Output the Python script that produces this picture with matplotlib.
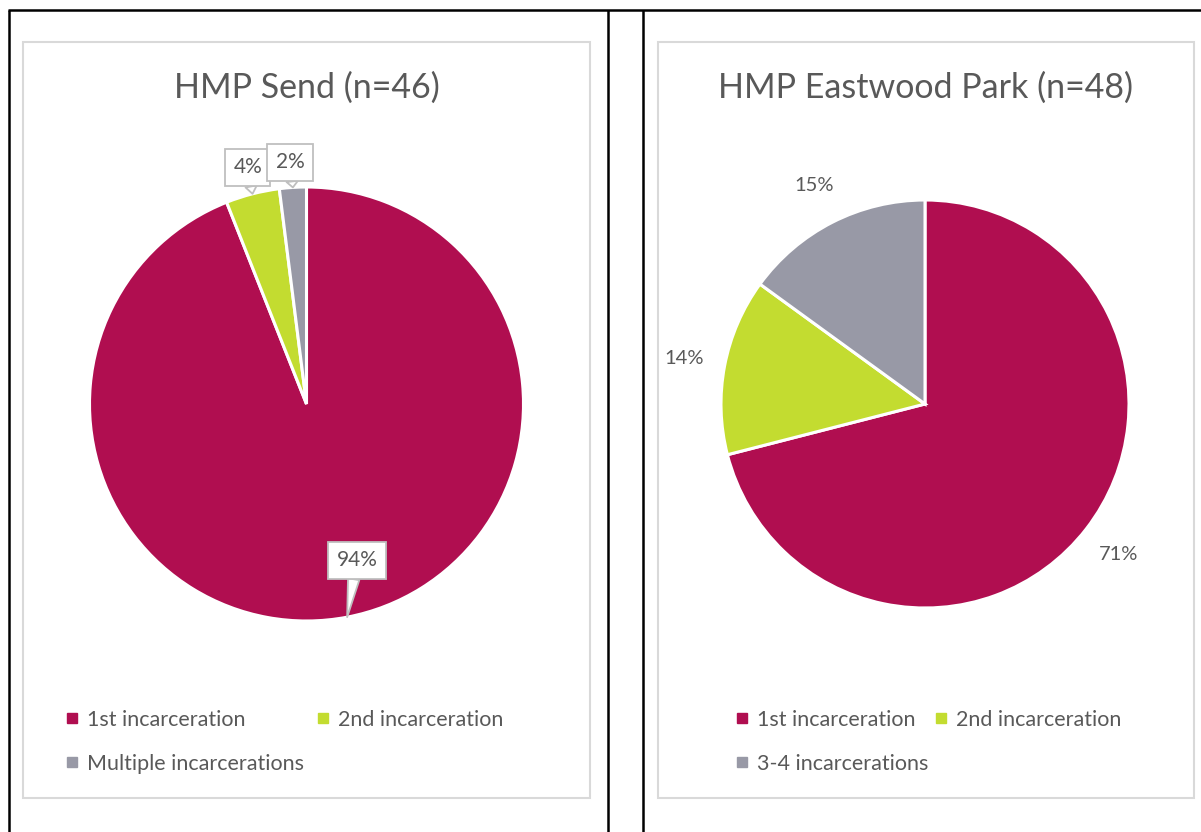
import numpy as np
import matplotlib
matplotlib.use('Agg')
import matplotlib.pyplot as plt
from matplotlib.lines import Line2D
from matplotlib.patches import Rectangle

plt.rcParams['font.family'] = ['Lato', 'DejaVu Sans']

# data
send_title = "HMP Send (n=46)"
send_labels = ['1st incarceration', '2nd incarceration', 'Multiple incarcerations']
send_values = [94, 4, 2]

east_title = "HMP Eastwood Park (n=48)"
east_labels = ['1st incarceration', '2nd incarceration', '3-4 incarcerations']
east_values = [71, 14, 15]

colors = ['#B00E50', '#C3DC30', '#9899A6']
txt = '#595959'

W, H = 1201, 832
fig = plt.figure(figsize=(W / 100, H / 100), dpi=100)

# background layer in pixel coords (table lines + chart frames)
bg = fig.add_axes([0, 0, 1, 1])
bg.set_xlim(0, W)
bg.set_ylim(H, 0)
bg.axis('off')
for x in [9, 608, 643]:
    bg.plot([x, x], [10, H], color='black', lw=1.8, solid_capstyle='butt')
bg.plot([8, W], [10, 10], color='black', lw=1.8, solid_capstyle='butt')
bg.add_patch(Rectangle((23, 42), 567, 756, fill=False, ec='#D9D9D9', lw=1.5))
bg.add_patch(Rectangle((658, 42), 536, 756, fill=False, ec='#D9D9D9', lw=1.5))


def pie_axes(cx, cy, r):
    ax = fig.add_axes([(cx - r) / W, (H - cy - r) / H, 2 * r / W, 2 * r / H])
    ax.axis('off')
    return ax


def fix_limits(ax):
    ax.set_xlim(-1, 1)
    ax.set_ylim(-1, 1)
    ax.set_aspect('equal')


# ---- HMP Send ----
ax1 = pie_axes(306.5, 404, 217)
wedges1, _ = ax1.pie(send_values, colors=colors, startangle=90, counterclock=False,
                     wedgeprops={'edgecolor': 'white', 'linewidth': 2.2})
fix_limits(ax1)
offsets = [(7, 41), (-3.5, 19), (-2, 18)]
for w, v, off in zip(wedges1, send_values, offsets):
    mid = np.deg2rad((w.theta1 + w.theta2) / 2)
    tip = (np.cos(mid) * 1.0, np.sin(mid) * 1.0)
    ax1.annotate(f"{v}%", xy=tip, xytext=off, textcoords='offset points',
                 ha='center', va='center', fontsize=15, color=txt,
                 bbox=dict(boxstyle='square,pad=0.4', fc='white', ec='#BFBFBF', lw=1.3),
                 arrowprops=dict(arrowstyle='wedge,tail_width=0.55', fc='white',
                                 ec='#BFBFBF', lw=1.3, shrinkA=0, shrinkB=0))
fig.text(306.5 / W, 1 - 88 / H, send_title, ha='center', va='center', fontsize=24.5, color=txt)

h1 = [Line2D([], [], marker='s', ls='none', color=c, markersize=6.5) for c in colors]
leg1 = ax1.legend([h1[0], h1[2], h1[1]], [send_labels[0], send_labels[2], send_labels[1]],
                  ncol=2, loc='upper left', bbox_to_anchor=(55 / W, 1 - 699 / H),
                  bbox_transform=fig.transFigure, frameon=False, fontsize=15.5,
                  labelcolor=txt, handlelength=0.6, handletextpad=0.4,
                  columnspacing=0.55, labelspacing=1.12, borderpad=0)

# ---- HMP Eastwood Park ----
ax2 = pie_axes(925, 404, 204)
wedges2, _, autot = ax2.pie(east_values, colors=colors, startangle=90, counterclock=False,
                            autopct='%1.0f%%', pctdistance=1.2,
                            wedgeprops={'edgecolor': 'white', 'linewidth': 2.2},
                            textprops={'fontsize': 14.5, 'color': txt})
fix_limits(ax2)
fig.text(926 / W, 1 - 88 / H, east_title, ha='center', va='center', fontsize=24.5, color=txt)

h2 = [Line2D([], [], marker='s', ls='none', color=c, markersize=6.5) for c in colors]
leg2 = ax2.legend([h2[0], h2[2], h2[1]], [east_labels[0], east_labels[2], east_labels[1]],
                  ncol=2, loc='upper left', bbox_to_anchor=(725 / W, 1 - 699 / H),
                  bbox_transform=fig.transFigure, frameon=False, fontsize=15.5,
                  labelcolor=txt, handlelength=0.6, handletextpad=0.4,
                  columnspacing=0.25, labelspacing=1.12, borderpad=0)

plt.savefig('out.png', dpi=100)
